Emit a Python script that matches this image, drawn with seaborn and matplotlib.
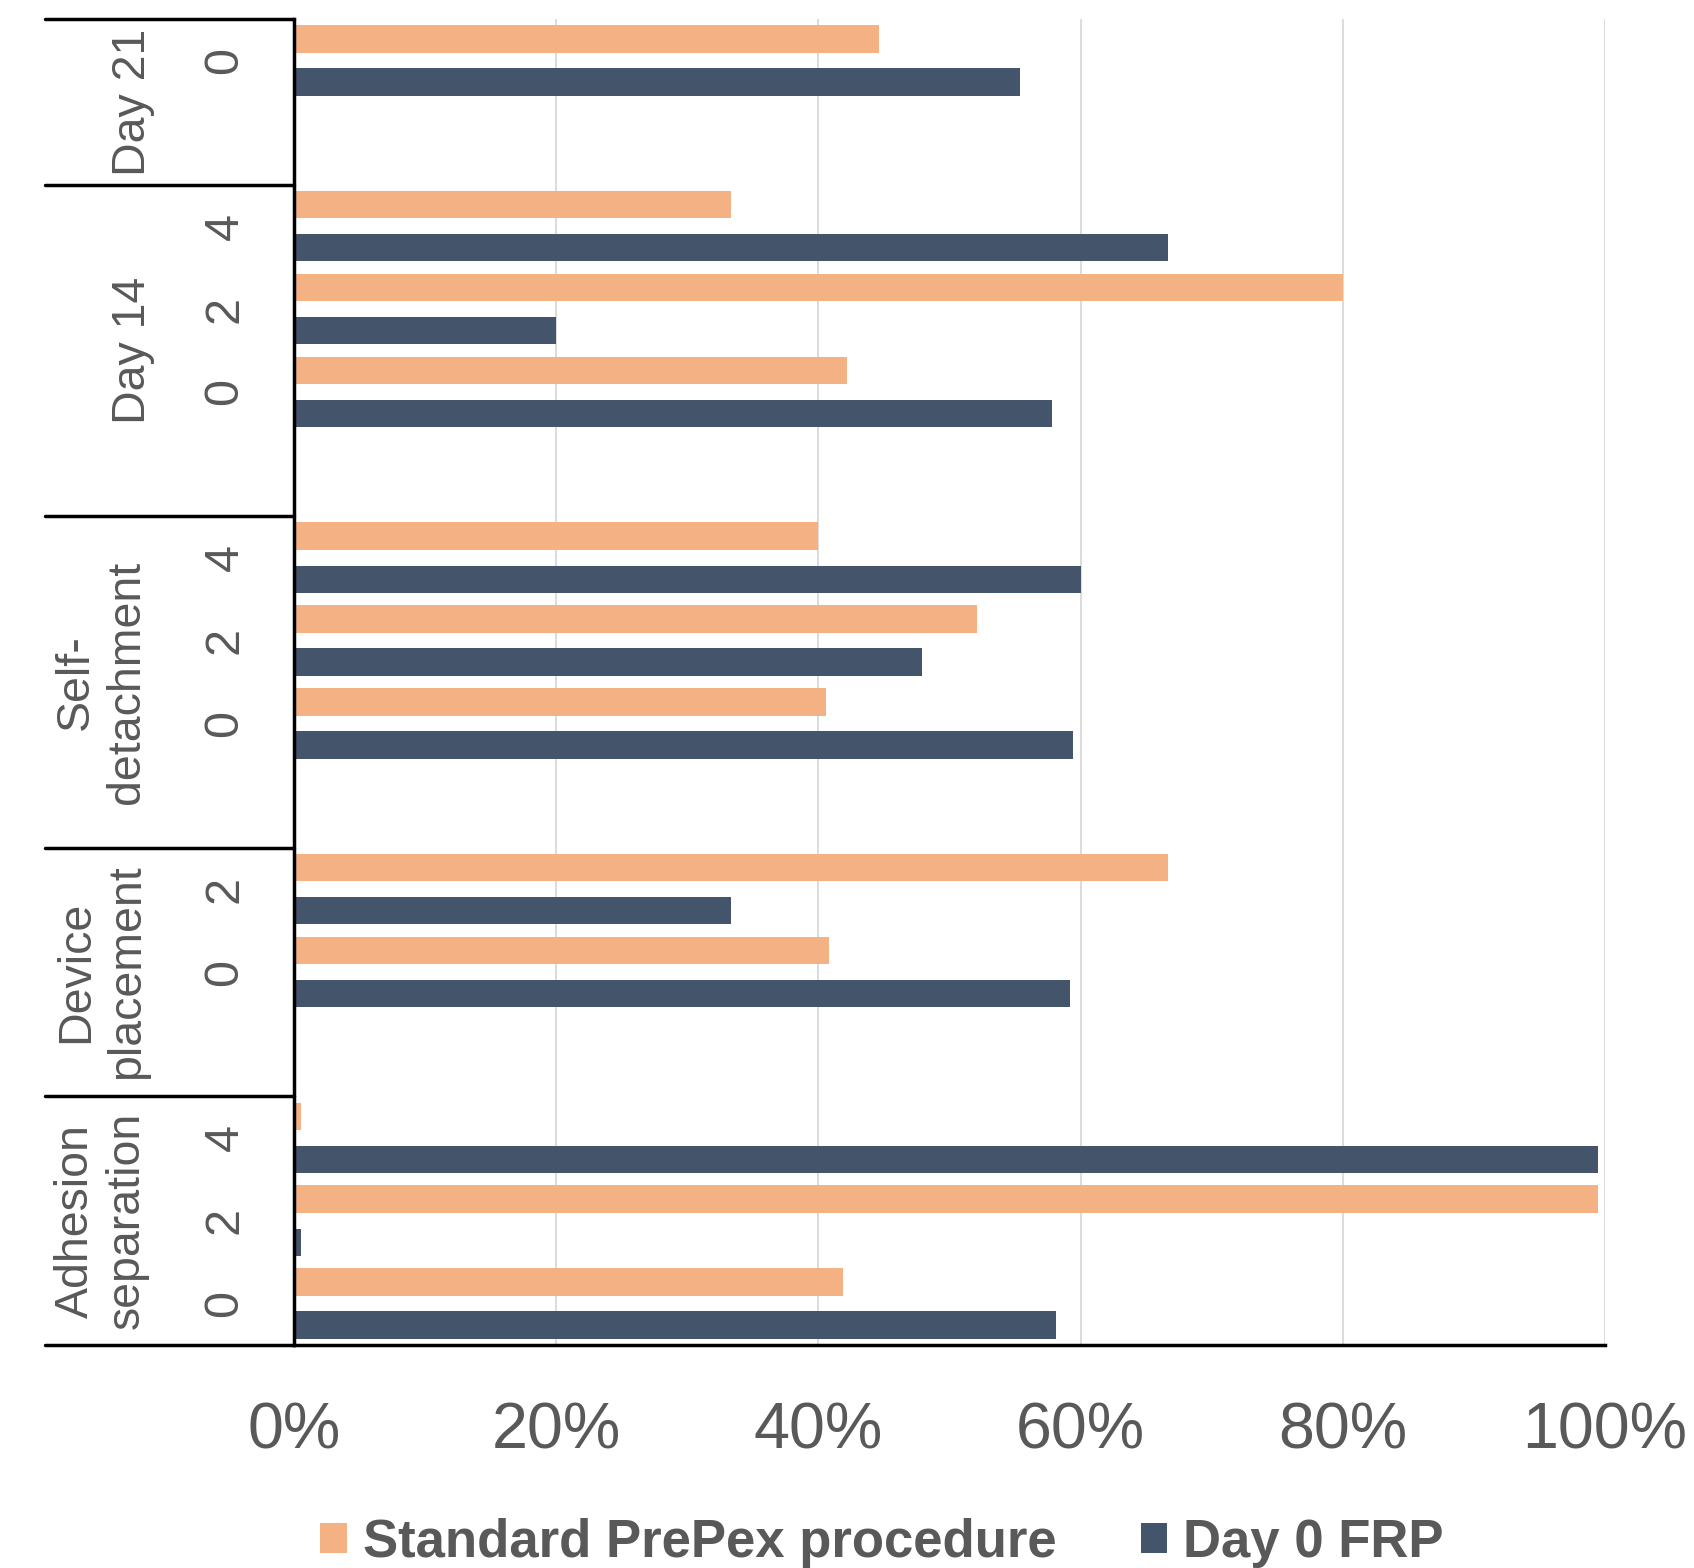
import pandas as pd
import matplotlib.pyplot as plt
import seaborn as sns
from matplotlib.patches import Patch
from matplotlib.lines import Line2D

# chart data, top group first
groups = ["Day 21", "Day 14", "Self-\ndetachment", "Device\nplacement", "Adhesion\nseparation"]
timepoints = [["0"], ["4", "2", "0"], ["4", "2", "0"], ["2", "0"], ["4", "2", "0"]]
standard_pct = [[44.6], [33.3, 80.0, 42.2], [40.0, 52.1, 40.6], [66.7, 40.8], [0.5, 99.5, 41.9]]
frp_pct = [[55.4], [66.7, 20.0, 57.8], [60.0, 47.9, 59.4], [33.3, 59.2], [99.5, 0.5, 58.1]]
# the original sheet has an empty row after every group but the last
spacer_after = [True, True, True, True, False]
series = ["Standard PrePex procedure", "Day 0 FRP"]
colors = ["#F4B183", "#44546A"]
x_ticks = [0, 20, 40, 60, 80, 100]

TEXT = "#595959"


def build_frame():
    """Long-form table plus the category order (with empty spacer rows)."""
    rows, order, spans = [], [], []
    for g, tps, s_vals, f_vals, spacer in zip(groups, timepoints, standard_pct, frp_pct, spacer_after):
        start = len(order)
        for tp, s, f in zip(tps, s_vals, f_vals):
            key = f"{g}|{tp}"
            order.append(key)
            rows.append({"row": key, "series": series[0], "pct": s})
            rows.append({"row": key, "series": series[1], "pct": f})
        if spacer:
            order.append(f"{g}|")
        spans.append((start, len(order) - 1))
    return pd.DataFrame(rows), order, spans


def main():
    sns.set_style("white")
    plt.rcParams["font.family"] = ["Liberation Sans", "DejaVu Sans"]

    df, order, spans = build_frame()

    fig = plt.figure(figsize=(16.94, 15.68), dpi=100)
    ax = fig.add_axes([294 / 1694, 1 - 1345 / 1568, 1311 / 1694, 1326 / 1568])

    sns.barplot(data=df, y="row", x="pct", hue="series", order=order, hue_order=series,
                palette=colors, saturation=1, width=1.04, gap=0.365, orient="h",
                errorbar=None, legend=False, linewidth=0, ax=ax)

    ax.set_xlim(0, 100)
    ax.set_xticks(x_ticks)
    ax.set_xticklabels([f"{t}%" for t in x_ticks])
    ax.tick_params(axis="x", length=0, pad=41, labelsize=46.5, labelcolor=TEXT)
    ax.tick_params(axis="y", left=False, labelleft=False)
    ax.set_xlabel("")
    ax.set_ylabel("")
    ax.xaxis.grid(True, color="#D9D9D9", linewidth=1.3)
    ax.set_axisbelow(True)

    for side in ["top", "right"]:
        ax.spines[side].set_visible(False)
    for side in ["left", "bottom"]:
        ax.spines[side].set_color("black")
        ax.spines[side].set_linewidth(2.5)

    # hierarchical category axis
    ytr = ax.get_yaxis_transform()
    for i, key in enumerate(order):
        tp = key.split("|")[1]
        if tp:
            ax.text(-0.0526, i, tp, transform=ytr, rotation=90, ha="center", va="center",
                    fontsize=35, color=TEXT)
    boundaries = [-0.5]
    for g, (start, end) in zip(groups, spans):
        center = (start + end) / 2
        xpos = -0.147 if "\n" in g else -0.123
        ax.text(xpos, center, g, transform=ytr, rotation=90, ha="center", va="center",
                multialignment="center", fontsize=33.5, color=TEXT, linespacing=1.2)
        boundaries.append(end + 0.5)
    for y in boundaries:
        ax.add_line(Line2D([-0.19, 0], [y, y], transform=ytr, color="black",
                           linewidth=2.5, clip_on=False))

    handles = [Patch(facecolor=c, edgecolor="none") for c in colors]
    fig.legend(handles, series, loc="center", bbox_to_anchor=(882 / 1694, 1 - 1543 / 1568),
               ncol=2, frameon=False, prop={"weight": "bold", "size": 38}, labelcolor=TEXT,
               handlelength=0.5, handleheight=0.5, handletextpad=0.3, columnspacing=1.6)

    fig.savefig("out.png", dpi=100)


if __name__ == "__main__":
    main()
